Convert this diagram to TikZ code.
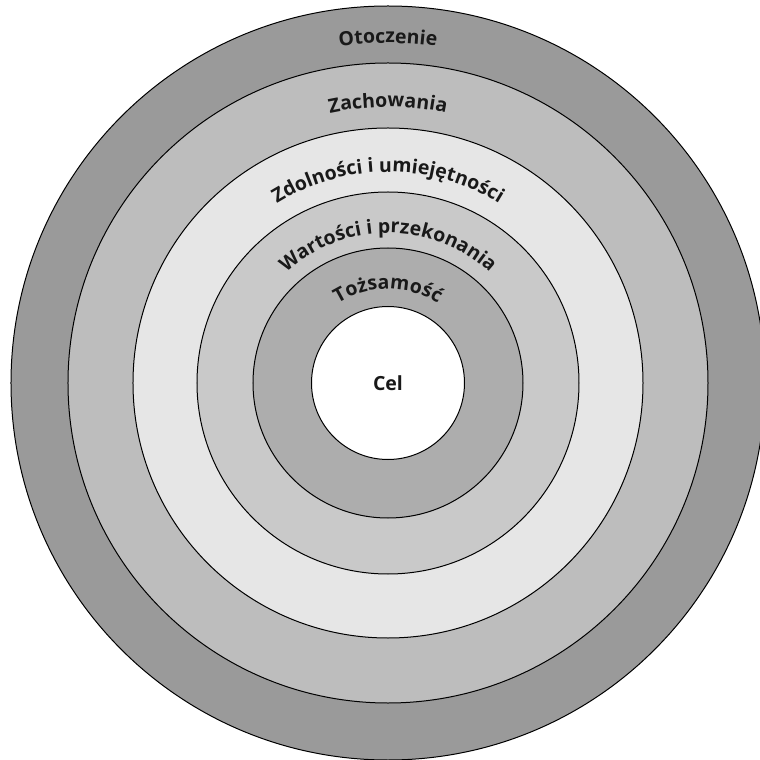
\documentclass[tikz,border=0pt]{standalone}
\usepackage{fontspec}
\setmainfont{Open Sans}
\usetikzlibrary{decorations.text}
\definecolor{ringA}{HTML}{9A9A9A}
\definecolor{ringB}{HTML}{BDBDBD}
\definecolor{ringC}{HTML}{E6E6E6}
\definecolor{ringD}{HTML}{C9C9C9}
\definecolor{ringE}{HTML}{ADADAD}
\newcommand{\lblfont}{\fontsize{19.5}{22}\selectfont\bfseries}
\begin{document}
\begin{tikzpicture}[x=1pt,y=1pt,
  ring/.style={circle, draw=black, line width=1pt, inner sep=0pt},
  arclabel/.style={decorate, decoration={text along path, text align=center, text color=black!90}}]
\useasboundingbox (-388,-377) rectangle (372,383);
\fill[white] (-388,-377) rectangle (372,383);
\node[ring, fill=ringA, minimum size=754pt] (otoczenie) at (0,0) {};
\node[ring, fill=ringB, minimum size=640pt] (zachowania) at (0,0) {};
\node[ring, fill=ringC, minimum size=510pt] (zdolnosci) at (0,0) {};
\node[ring, fill=ringD, minimum size=382pt] (wartosci) at (0,0) {};
\node[ring, fill=ringE, minimum size=270pt] (tozsamosc) at (0,0) {};
\node[ring, fill=white, minimum size=153pt] (cel) at (0,0) {};
\node[font=\lblfont, text=black!90] (cellbl) at (cel.center) {Cel};
\path[arclabel, decoration={text={|\lblfont|Otoczenie}}]
  (180:340) arc[start angle=180, end angle=0, radius=340];
\path[arclabel, decoration={text={|\lblfont|Zachowania}}]
  (180:276) arc[start angle=180, end angle=0, radius=276];
\path[arclabel, decoration={text={|\lblfont|Zdolności i umiejętności}}]
  (180:211) arc[start angle=180, end angle=0, radius=211];
\path[arclabel, decoration={text={|\lblfont|Wartości i przekonania}}]
  (180:150) arc[start angle=180, end angle=0, radius=150];
\path[arclabel, decoration={text={|\lblfont|Tożsamość}}]
  (180:94) arc[start angle=180, end angle=0, radius=94];
\end{tikzpicture}
\end{document}
